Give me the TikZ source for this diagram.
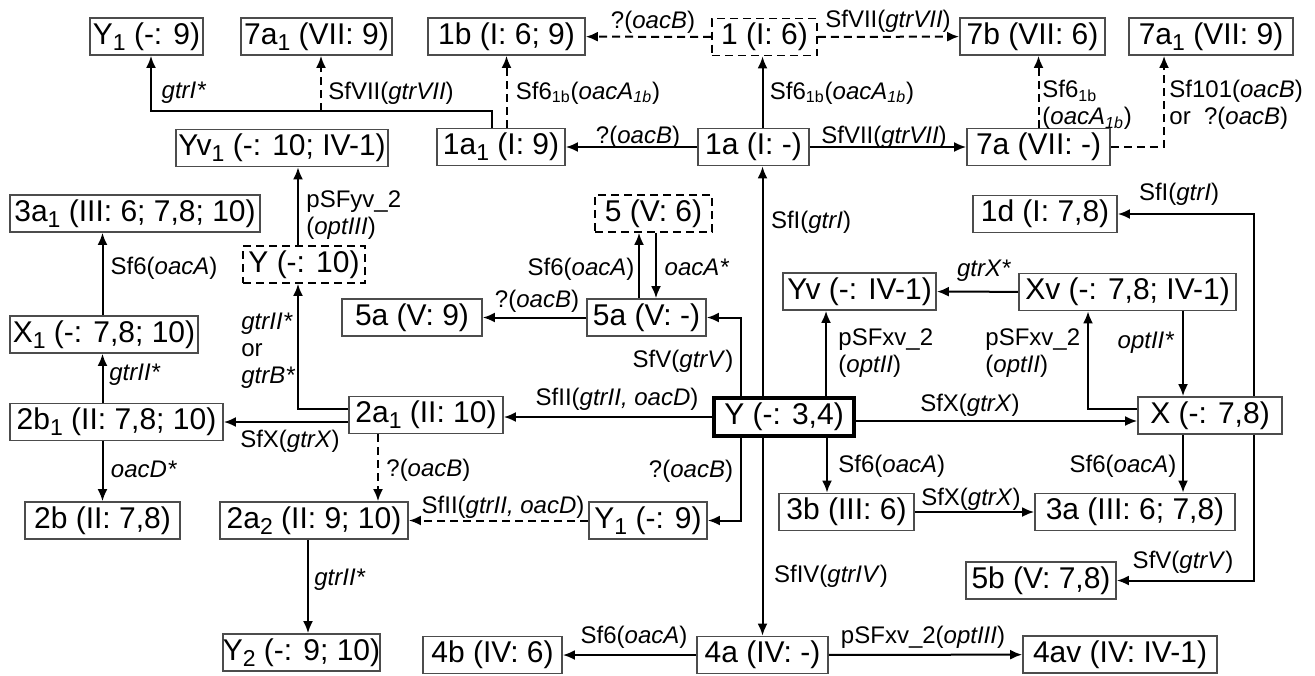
\documentclass[tikz,border=0pt]{standalone}
\usepackage{fontspec}
\setmainfont{Liberation Sans}
\usetikzlibrary{arrows.meta,calc}

% large, well-lowered index used in the strain names
\newcommand\strainidx[1]{\raisebox{-3pt}{\fontsize{11.5}{11.5}\selectfont #1}}

\tikzset{
  box/.style={draw=black!70, line width=0.9pt, fill=white, inner sep=0pt,
    minimum height=18.5pt, font=\fontsize{15}{18}\selectfont},
  dbox/.style={box, draw=black, dash pattern=on 4pt off 2.5pt},
  ybox/.style={box, draw=black, line width=2pt, minimum height=19pt},
  arr/.style={line width=1pt, -{Latex[length=6pt,width=5pt]}},
  darr/.style={arr, dash pattern=on 4pt off 2.5pt},
  lab/.style={inner sep=0pt, font=\fontsize{12}{13.5}\selectfont},
  labl/.style={lab, anchor=west, align=left}
}

\begin{document}
\begin{tikzpicture}[x=0.5pt,y=-0.5pt]
\useasboundingbox (0,0) rectangle (1315,675);

% ---- strains ----
\node[box,minimum width=56.5pt] (Y1t) at (146.5,36.5) {Y\strainidx{1} (-: 9)};
\node[box,minimum width=75.5pt] (s7a1L) at (316.5,36.5) {7a\strainidx{1} (VII: 9)};
\node[box,minimum width=78.5pt] (s1b) at (506.5,36.5) {1b (I: 6; 9)};
\node[dbox,minimum width=52.5pt] (s1) at (764.5,37) {1 (I: 6)};
\node[box,minimum width=72.5pt] (s7b) at (1032.5,36.5) {7b (VII: 6)};
\node[box,minimum width=82pt] (s7a1R) at (1211,36.5) {7a\strainidx{1} (VII: 9)};
\node[box,minimum width=106pt] (Yv1) at (282,148) {Yv\strainidx{1} (-: 10; IV-1)};
\node[box,minimum width=64pt] (s1a1) at (501,147) {1a\strainidx{1} (I: 9)};
\node[box,minimum width=55.5pt] (s1a) at (753.5,147) {1a (I: -)};
\node[box,minimum width=71.5pt] (s7a) at (1038.5,147) {7a (VII: -)};
\node[box,minimum width=125pt] (s3a1) at (135,213.5) {3a\strainidx{1} (III: 6; 7,8; 10)};
\node[dbox,minimum width=58.5pt] (s5) at (653.5,213.5) {5 (V: 6)};
\node[box,minimum width=72pt] (s1d) at (1045,214) {1d (I: 7,8)};
\node[dbox,minimum width=61pt] (Y10) at (304,264.5) {Y (-: 10)};
\node[box,minimum width=76.5pt] (Yv) at (859.5,291.5) {Yv (-: IV-1)};
\node[box,minimum width=108.5pt] (Xv) at (1127.5,292) {Xv (-: 7,8; IV-1)};
\node[box,minimum width=94pt] (X1) at (104,334.5) {X\strainidx{1} (-: 7,8; 10)};
\node[box,minimum width=70pt] (s5a9) at (412,317.5) {5a (V: 9)};
\node[box,minimum width=59.5pt] (s5a) at (646.5,317.5) {5a (V: -)};
\node[box,minimum width=106.5pt] (s2b1) at (116.5,422) {2b\strainidx{1} (II: 7,8; 10)};
\node[box,minimum width=77pt] (s2a1) at (426,415) {2a\strainidx{1} (II: 10)};
\node[ybox,minimum width=70pt] (Y) at (784,417) {Y (-: 3,4)};
\node[box,minimum width=72pt] (X) at (1210,415.5) {X (-: 7,8)};
\node[box,minimum width=77.5pt] (s2b) at (102.5,520.5) {2b (II: 7,8)};
\node[box,minimum width=94pt] (s2a2) at (314,520.5) {2a\strainidx{2} (II: 9; 10)};
\node[box,minimum width=59pt] (Y1b) at (648,520.5) {Y\strainidx{1} (-: 9)};
\node[box,minimum width=67.5pt] (s3b) at (846.5,512) {3b (III: 6)};
\node[box,minimum width=100pt] (s3a) at (1135,512) {3a (III: 6; 7,8)};
\node[box,minimum width=75pt] (s5b) at (1041,580.5) {5b (V: 7,8)};
\node[box,minimum width=78.5pt] (Y2) at (301.5,652.5) {Y\strainidx{2} (-: 9; 10)};
\node[box,minimum width=69.5pt] (s4b) at (492.5,655) {4b (IV: 6)};
\node[box,minimum width=65.5pt] (s4a) at (762.5,655) {4a (IV: -)};
\node[box,minimum width=97pt] (s4av) at (1120,654.5) {4av (IV: IV-1)};

% ---- conversions: serotype I / VII branch ----
\coordinate (bus) at (0,111);
\draw[darr] (s1) -- (s1b);
\draw[darr] (s1) -- (s7b);
\draw[arr] (s1a.north -| s4a) -- (s1.south -| s4a);
\draw[arr] (s1a) -- (s1a1);
\draw[arr] (s1a) -- (s7a);
\draw[darr] (s1a1.north -| s1b) -- (s1b.south);
\draw[arr] ($(s1a1.north)+(-9,0)$) |- ($(bus -| Y1t)+(4.5,0)$) -- ($(Y1t.south)+(4.5,0)$);
\draw[darr] ($(bus -| s7a1L)+(4.5,0)$) -- ($(s7a1L.south)+(4.5,0)$);
\draw[darr] (s7a.north) -- (s7a.north |- s7b.south);
\draw[darr] (s7a.east) -| ($(s7a1R.south)+(-47,0)$);

% ---- conversions from Y ----
\draw[arr] (Y.north -| s4a) -- (s1a.south -| s4a);
\draw[arr] (Y.south -| s4a) -- (s4a.north);
\draw[arr] ($(Y.north)+(-43,0)$) |- (s5a.east);
\draw[arr] ($(Y.south)+(-43,0)$) |- (Y1b.east);
\draw[arr] ($(Y.north)+(42,0)$) -- ($(Yv.south -| Y.north)+(42,0)$);
\draw[arr] ($(Y.south)+(43,0)$) -- ($(s3b.north -| Y.south)+(43,0)$);
\draw[arr] (Y.west) -- (Y.west -| s2a1.east);
\draw[arr] ($(Y.east)+(0,4)$) -- ($(X.west |- Y.east)+(0,4)$);

% ---- conversions from X ----
\draw[arr] ($(X.west)+(0,-6.5)$) -| ($(Xv.south)+(-39.5,0)$);
\draw[arr] ($(Xv.south)+(55.5,0)$) -- ($(X.north -| Xv.south)+(55.5,0)$);
\draw[arr] (Xv) -- (Yv);
\draw[arr] ($(X.south)+(-27,0)$) -- ($(s3a.north -| X.south)+(-27,0)$);
\draw[arr] ($(X.north)+(44,0)$) |- (s1d.east);
\draw[arr] ($(X.south)+(44,0)$) |- (s5b.east);
\draw[arr] (s3b) -- (s3a);

% ---- serotype V ----
\draw[arr] (s5a) -- (s5a9);
\draw[arr] ($(s5a.north)+(-7.5,0)$) -- ($(s5.south -| s5a.north)+(-7.5,0)$);
\draw[arr] ($(s5.south)+(2.5,0)$) -- ($(s5a.north -| s5.south)+(2.5,0)$);

% ---- serotype II branch ----
\draw[arr] ($(s2a1.west)+(0,-6)$) -| ($(Y10.south)+(-6,0)$);
\draw[arr] ($(Y10.north)+(-6,0)$) -- ($(Yv1.south -| Y10.north)+(-6,0)$);
\draw[arr] (s2a1.west |- s2b1) -- (s2b1.east);
\draw[arr] (X1.north -| s2b) -- (s3a1.south -| s2b);
\draw[arr] (s2b1.north -| s2b) -- (X1.south -| s2b);
\draw[arr] (s2b1.south -| s2b) -- (s2b.north);
\draw[darr] ($(s2a1.south)+(-48,0)$) -- ($(s2a2.north -| s2a1.south)+(-48,0)$);
\draw[arr] ($(s2a2.south)+(-6,0)$) -- ($(Y2.north -| s2a2.south)+(-6,0)$);
\draw[darr] (Y1b.west) -- (Y1b.west -| s2a2.east);

% ---- serotype IV ----
\draw[arr] (s4a) -- (s4b);
\draw[arr] (s4a) -- (s4av);

% ---- labels ----
\node[lab] (l1) at (653,22) {?(\textit{oacB})};
\node[lab] (l2) at (888,21) {SfVII(\textit{gtrVII})};
\node[lab] (l3) at (184,93) {\textit{gtrI*}};
\node[lab] (l4) at (391,93) {SfVII(\textit{gtrVII})};
\node[lab] (l5) at (588,93) {Sf6\textsubscript{1b}(\textit{oacA\textsubscript{1b}})};
\node[lab] (l6) at (842,93) {Sf6\textsubscript{1b}(\textit{oacA\textsubscript{1b}})};
\node[labl] (l7) at (1042,105) {Sf6\textsubscript{1b}\\(\textit{oacA\textsubscript{1b}})};
\node[labl] (l8) at (1169,105) {Sf101(\textit{oacB})\\or \ ?(\textit{oacB})};
\node[lab] (l9) at (638,137) {?(\textit{oacB})};
\node[lab] (l10) at (884,137) {SfVII(\textit{gtrVII})};
\node[labl] (l11) at (306,215) {pSFyv\_2\\(\textit{optIII})};
\node[lab] (l12) at (811,222) {SfI(\textit{gtrI})};
\node[lab] (l13) at (1179,194) {SfI(\textit{gtrI})};
\node[lab] (l14) at (164,268) {Sf6(\textit{oacA})};
\node[lab] (l15) at (135,375) {\textit{gtrII*}};
\node[labl] (l16) at (241,351) {\textit{gtrII*}\\or\\\textit{gtrB*}};
\node[lab] (l17) at (581,269) {Sf6(\textit{oacA})};
\node[lab] (l18) at (697,267) {\textit{oacA*}};
\node[lab] (l19) at (537,301) {?(\textit{oacB})};
\node[lab] (l20) at (683,361) {SfV(\textit{gtrV})};
\node[lab] (l21) at (617,399) {SfII(\textit{gtrII, oacD})};
\node[lab] (l22) at (984,271) {\textit{gtrX*}};
\node[labl] (l23) at (838,353) {pSFxv\_2\\(\textit{optII})};
\node[labl] (l24) at (985,353) {pSFxv\_2\\(\textit{optII})};
\node[lab] (l25) at (1146,343) {\textit{optII*}};
\node[lab] (l26) at (970,405) {SfX(\textit{gtrX})};
\node[lab] (l27) at (290,441) {SfX(\textit{gtrX})};
\node[lab] (l28) at (144,469) {\textit{oacD*}};
\node[labl] (l29) at (386,470) {?(\textit{oacB})};
\node[lab] (l30) at (503,507) {SfII(\textit{gtrII, oacD})};
\node[lab] (l31) at (691,471) {?(\textit{oacB})};
\node[labl] (l32) at (838,466) {Sf6(\textit{oacA})};
\node[lab] (l33) at (1123,466) {Sf6(\textit{oacA})};
\node[lab] (l34) at (971,499) {SfX(\textit{gtrX})};
\node[lab] (l35) at (831,576) {SfIV(\textit{gtrIV})};
\node[lab] (l36) at (1183,562) {SfV(\textit{gtrV})};
\node[lab] (l37) at (634,637) {Sf6(\textit{oacA})};
\node[lab] (l38) at (923,637) {pSFxv\_2(\textit{optIII})};
\node[lab] (l39) at (340,580) {\textit{gtrII*}};
\end{tikzpicture}
\end{document}
